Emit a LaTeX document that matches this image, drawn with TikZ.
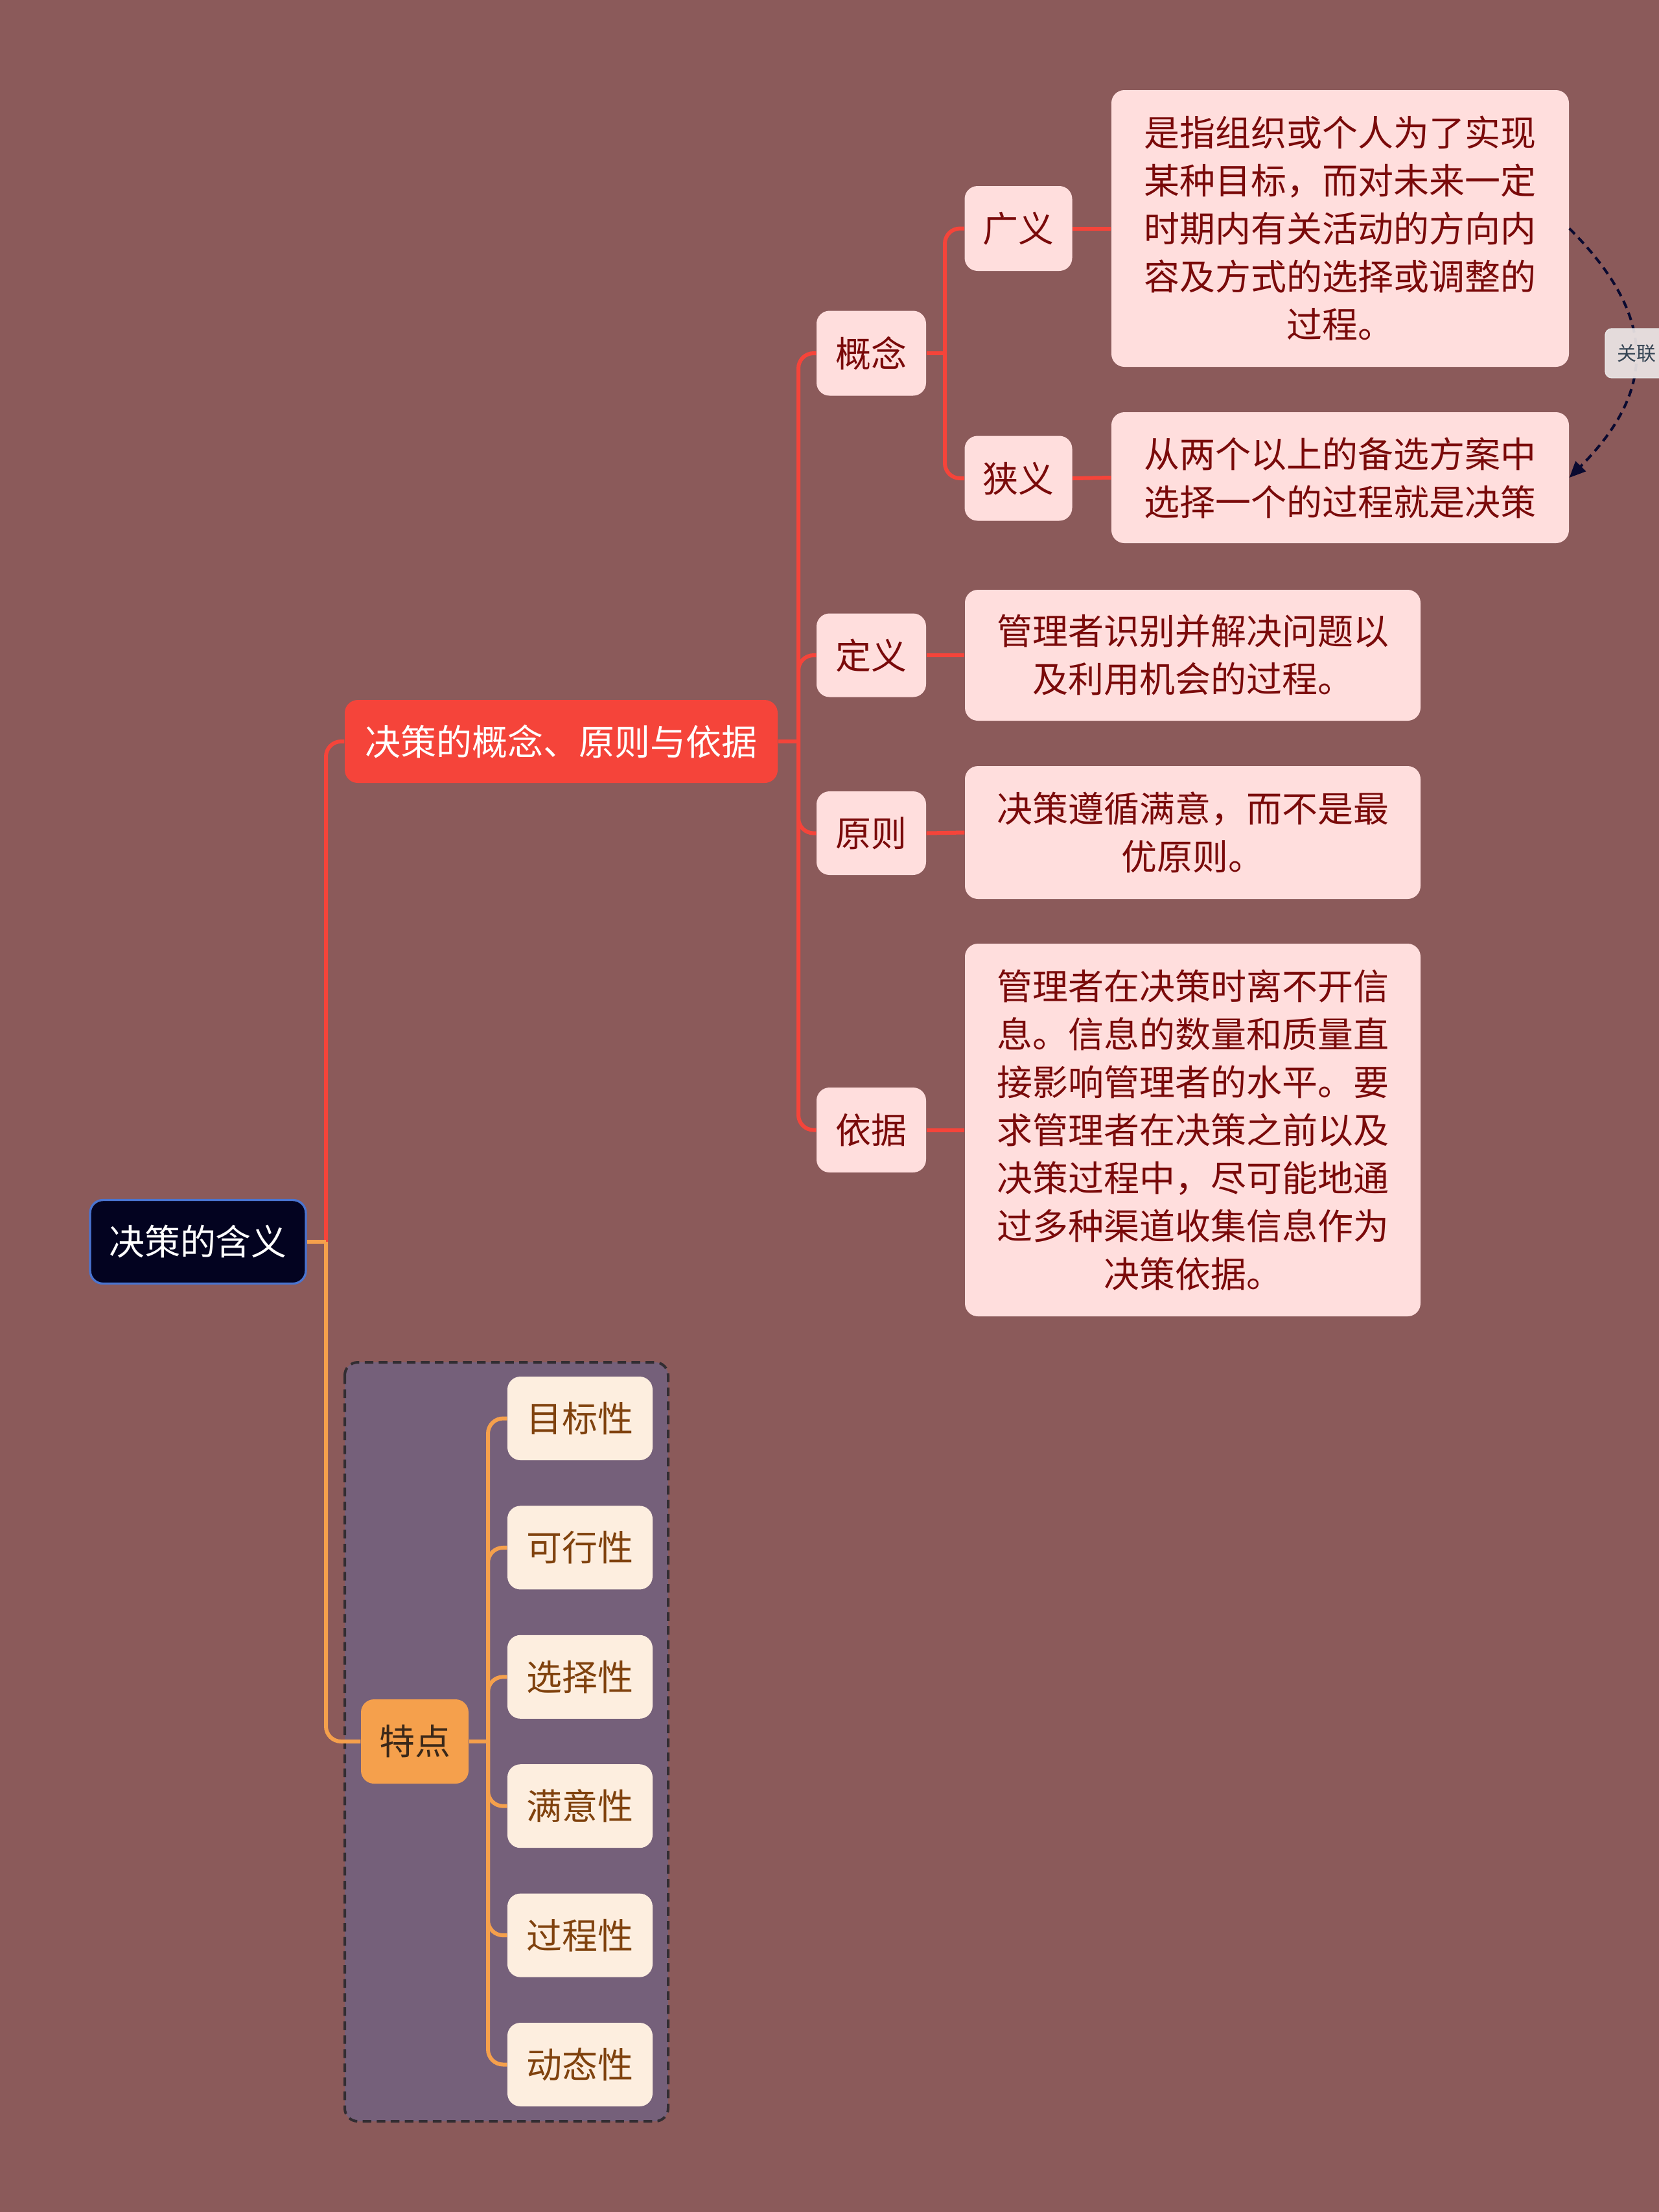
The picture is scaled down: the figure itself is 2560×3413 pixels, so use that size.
\documentclass[tikz,border=0pt]{standalone}
\usepackage{fontspec}
\setmainfont{Noto Sans CJK SC}
\usetikzlibrary{arrows.meta}
\definecolor{bg}{RGB}{139,90,90}
\definecolor{rootfill}{RGB}{3,3,32}
\definecolor{rootborder}{RGB}{74,116,208}
\definecolor{mainred}{RGB}{245,68,58}
\definecolor{pinkfill}{RGB}{255,222,221}
\definecolor{pinktext}{RGB}{122,10,10}
\definecolor{orangeline}{RGB}{245,160,76}
\definecolor{tdtext}{RGB}{58,40,25}
\definecolor{creamfill}{RGB}{253,238,223}
\definecolor{creamtext}{RGB}{128,66,14}
\definecolor{purplebox}{RGB}{117,96,122}
\definecolor{dashborder}{RGB}{50,45,50}
\definecolor{assoc}{RGB}{10,10,48}
\definecolor{labelfill}{RGB}{236,230,230}
\definecolor{labeltext}{RGB}{55,70,85}
\begin{document}
\begin{tikzpicture}[x=0.3pt,y=-0.3pt,
  sz/.style 2 args={minimum width=#1*0.3pt, minimum height=#2*0.3pt},
  base/.style={rounded corners=6pt, inner sep=0pt, align=center,
    font=\fontsize{16.5}{22.2}\selectfont},
  rootbox/.style={base, fill=rootfill, draw=rootborder, line width=1pt, text=white},
  mainbox/.style={base, fill=mainred, text=white},
  pinkbox/.style={base, fill=pinkfill, text=pinktext},
  tdbox/.style={base, fill=orangeline, text=tdtext},
  featbox/.style={base, fill=creamfill, text=creamtext, sz={224}{129}},
  redconn/.style={draw=mainred, line width=1.8pt},
  orconn/.style={draw=orangeline, line width=1.8pt},
  rc/.style={rounded corners=7pt},
  assocline/.style={draw=assoc, line width=1.2pt, dash pattern=on 3.6pt off 2.4pt,
    -{Triangle[length=7.5pt,width=6.5pt]}},
  assoclabel/.style={fill=labelfill, draw=white!85!gray, line width=0.4pt,
    rounded corners=3pt, text=labeltext, inner sep=0pt, sz={96}{76},
    font=\fontsize{9}{10}\selectfont}
]
\useasboundingbox (0,0) rectangle (2560,3413);
\clip (0,0) rectangle (2560,3413);
\fill[bg] (0,0) rectangle (2560,3413);

% dashed group box
\draw[fill=purplebox, draw=dashborder, line width=1.2pt, dash pattern=on 4pt off 2.5pt,
  rounded corners=6pt] (532,2102) rectangle (1031,3273);

% nodes
\node[rootbox, sz={333}{129}] (root) at (305.5,1916) {决策的含义};
\node[mainbox, sz={668}{128}] (b1) at (866,1144) {决策的概念、原则与依据};

\node[pinkbox, sz={169}{131}] (gn) at (1344.5,545) {概念};
\node[pinkbox, sz={166}{131}] (gy) at (1571.5,352.5) {广义};
\node[pinkbox, sz={166}{131}] (xy) at (1571.5,738) {狭义};
\node[pinkbox, sz={706}{427}] (gyt) at (2068,352.5)
  {是指组织或个人为了实现\\某种目标，而对未来一定\\时期内有关活动的方向内\\容及方式的选择或调整的\\过程。};
\node[pinkbox, sz={706}{202}] (xyt) at (2068,737)
  {从两个以上的备选方案中\\选择一个的过程就是决策};

\node[pinkbox, sz={169}{129}] (dy) at (1344.5,1011) {定义};
\node[pinkbox, sz={703}{202}] (dyt) at (1840.5,1011)
  {管理者识别并解决问题以\\及利用机会的过程。};

\node[pinkbox, sz={169}{129}] (yz) at (1344.5,1285.5) {原则};
\node[pinkbox, sz={703}{205}] (yzt) at (1840.5,1284.5)
  {决策遵循满意，而不是最\\优原则。};

\node[pinkbox, sz={169}{131}] (yj) at (1344.5,1743.5) {依据};
\node[pinkbox, sz={703}{575}] (yjt) at (1840.5,1743.5)
  {管理者在决策时离不开信\\息。信息的数量和质量直\\接影响管理者的水平。要\\求管理者在决策之前以及\\决策过程中，尽可能地通\\过多种渠道收集信息作为\\决策依据。};

\node[tdbox, sz={166}{130}] (td) at (640,2687) {特点};
\node[featbox] (f1) at (895,2188.5) {目标性};
\node[featbox] (f2) at (895,2387.9) {可行性};
\node[featbox] (f3) at (895,2587.3) {选择性};
\node[featbox] (f4) at (895,2786.7) {满意性};
\node[featbox] (f5) at (895,2986.1) {过程性};
\node[featbox] (f6) at (895,3185.5) {动态性};

% connectors: root
\coordinate (rj) at (503,1916);
\draw[redconn, rc] (rj) |- (b1.west);
\draw[orconn, rc] (rj) |- (td.west);
\draw[orconn] (root.east) -- (rj);

% connectors: main branch
\coordinate (bj) at (1232,1144);
\draw[redconn] (b1.east) -- (bj);
\foreach \c in {gn,dy,yz,yj} \draw[redconn, rc] (bj) |- (\c.west);

% connectors: concept
\coordinate (gj) at (1458,545);
\draw[redconn] (gn.east) -- (gj);
\foreach \c in {gy,xy} \draw[redconn, rc] (gj) |- (\c.west);

\draw[redconn] (gy.east) -- (gyt.west);
\draw[redconn] (xy.east) -- (xyt.west);
\draw[redconn] (dy.east) -- (dyt.west);
\draw[redconn] (yz.east) -- (yzt.west);
\draw[redconn] (yj.east) -- (yjt.west);

% connectors: features
\coordinate (tj) at (753,2687);
\draw[orconn] (td.east) -- (tj);
\foreach \c in {f1,f2,f3,f4,f5,f6} \draw[orconn, rc] (tj) |- (\c.west);

% association
\draw[assocline] (gyt.east) .. controls (2557,488) and (2557,601) .. (xyt.east);
\node[assoclabel, opacity=0.92, text opacity=1] (lab) at (2525,545) {关联};
\end{tikzpicture}
\end{document}
